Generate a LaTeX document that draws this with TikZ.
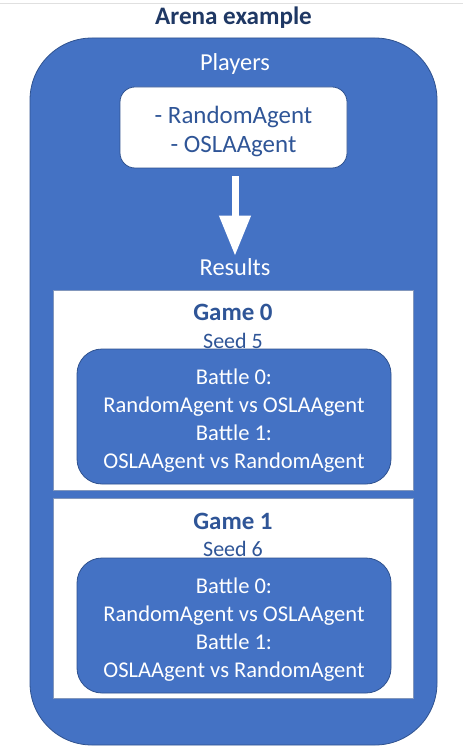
\documentclass[tikz,border=0pt]{standalone}
\usepackage{fontspec}
\setmainfont{Carlito}
\usetikzlibrary{arrows.meta}
\definecolor{fillblue}{HTML}{4472C4}
\definecolor{edgeblue}{HTML}{2F528F}
\definecolor{textblue}{HTML}{2F5597}
\definecolor{titlenavy}{HTML}{1F3864}
\tikzset{
  outerbox/.style={draw=edgeblue, line width=0.6pt, fill=fillblue, rounded corners=46.5pt, minimum width=305.25pt, minimum height=530.25pt, inner sep=0pt},
  listbox/.style={draw=edgeblue, line width=0.6pt, fill=white, rounded corners=11.25pt, minimum width=170.25pt, minimum height=60.75pt, inner sep=0pt},
  listtext/.style={align=center, text=textblue, font=\fontsize{18.7}{22.2}\selectfont, inner sep=0pt},
  gamebox/.style={draw=edgeblue!60, line width=0.6pt, fill=white, minimum width=270pt, minimum height=150pt, inner sep=0pt},
  battlebox/.style={draw=edgeblue, line width=0.6pt, fill=fillblue, rounded corners=18.75pt, minimum width=235.5pt, minimum height=101.25pt, inner sep=0pt},
  battletext/.style={align=center, text=white, font=\fontsize{16.9}{20.9}\selectfont, inner sep=0pt},
  whitelabel/.style={text=white, font=\fontsize{18.3}{22}\selectfont, inner sep=0pt},
  gametitle/.style={text=textblue, font=\bfseries\fontsize{18.7}{22}\selectfont, inner sep=0pt},
  seedlabel/.style={text=textblue, font=\fontsize{16.5}{20}\selectfont, inner sep=0pt},
  flowarrow/.style={white, line width=5.25pt, -{Triangle[width=22.5pt,length=30pt]}}
}
\begin{document}
\begin{tikzpicture}[x=0.75pt,y=-0.75pt]
\useasboundingbox[fill=white] (0,0) rectangle (463,755);
\draw[black!12, line width=0.75pt] (0,4) -- (463,4);
\node[text=titlenavy, font=\bfseries\fontsize{18.85}{22}\selectfont, inner sep=0pt] (title) at (233.5,17.5) {Arena example};
\node[outerbox] (arena) at (233.5,391.5) {};
\node[whitelabel] (players) at (235,63.5) {Players};
\node[listbox] (list) at (233.5,127.5) {};
\node[listtext] (listtxt) at (233.5,131.5) {- RandomAgent\\- OSLAAgent};
\node[whitelabel, text height=13pt, text depth=4pt] (results) at (235,270) {Results};
\draw[flowarrow, shorten <=6pt, shorten >=2pt] (list.south -| results.north) -- (results.north);
% Game 0
\node[gamebox] (game0) at (233,390) {};
\node[gametitle] (g0title) at (233,312) {Game 0};
\node[seedlabel] (g0seed) at (233,341) {Seed 5};
\node[battlebox] (b0) at (234,416.5) {};
\node[battletext] (b0txt) at (234,420.5) {Battle 0:\\RandomAgent vs OSLAAgent\\Battle 1:\\OSLAAgent vs RandomAgent};
% Game 1
\node[gamebox] (game1) at (233,598) {};
\node[gametitle] (g1title) at (233,521) {Game 1};
\node[seedlabel] (g1seed) at (233,549) {Seed 6};
\node[battlebox] (b1) at (234,625.5) {};
\node[battletext] (b1txt) at (234,629.5) {Battle 0:\\RandomAgent vs OSLAAgent\\Battle 1:\\OSLAAgent vs RandomAgent};
\end{tikzpicture}
\end{document}
